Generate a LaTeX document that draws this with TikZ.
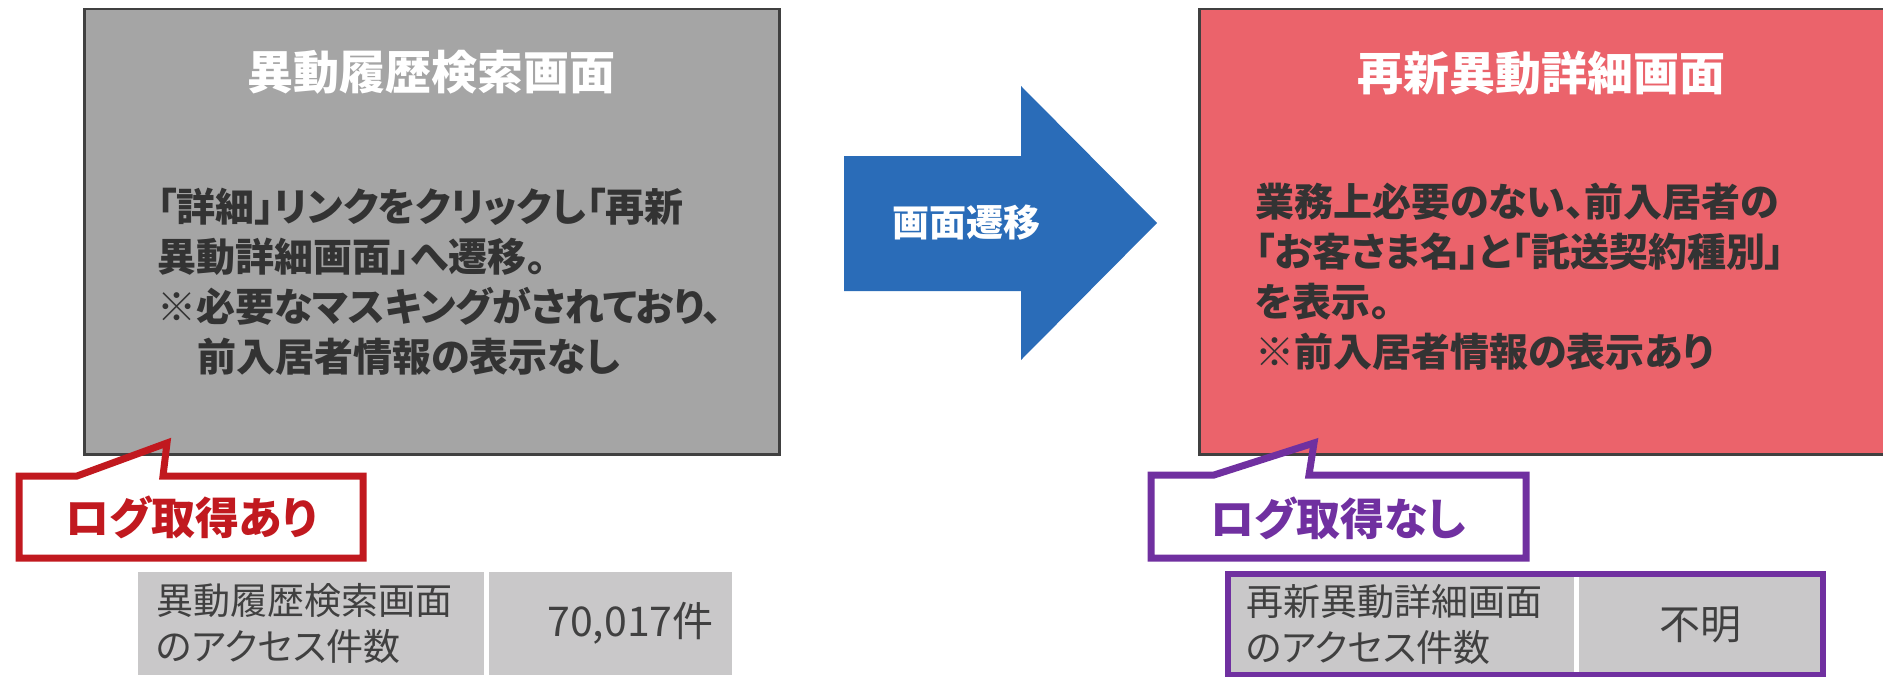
\documentclass[tikz,border=0pt]{standalone}
\usepackage{fontspec}
\setmainfont[RawFeature=+palt]{Noto Sans CJK JP}
\usepackage{xcolor}
\usetikzlibrary{positioning}

\definecolor{boxline}{HTML}{404040}
\definecolor{screengray}{HTML}{A5A5A5}
\definecolor{screenred}{HTML}{EB636B}
\definecolor{moveblue}{HTML}{2A6CB8}
\definecolor{logred}{HTML}{C1191F}
\definecolor{logpurple}{HTML}{7030A0}
\definecolor{cellgray}{HTML}{C9C8C9}
\definecolor{bodytext}{HTML}{333333}

\begin{document}
\begin{tikzpicture}[x=1pt,y=-1pt,
    screen/.style={draw=boxline,line width=2.5pt,minimum width=695pt,minimum height=445pt,anchor=north west,inner sep=0pt},
    title/.style={text=white,font=\bfseries\fontsize{46}{50}\selectfont},
    body/.style={text=bodytext,align=left,anchor=west,inner sep=0pt,font=\bfseries\fontsize{39}{50}\selectfont},
    callout/.style={line width=7pt,miter limit=20},
    logtext/.style={font=\bfseries\fontsize{44}{50}\selectfont},
    cell/.style={fill=cellgray,text=boxline,minimum height=103pt,inner ysep=0pt,inner xsep=18pt},
    label/.style={cell,anchor=north west,text width=310pt,align=left,font=\fontsize{37}{46}\selectfont},
    count/.style={cell,minimum width=243pt,font=\fontsize{41}{46}\selectfont}]
    \useasboundingbox (0,0) rectangle (1883,677);

    % screens
    \node[screen,fill=screengray] (scr_1) at (83,8) {};
    \node[screen,fill=screenred]  (scr_2) at (1198,8) {};
    \node[title,below=39pt of scr_1.north,on grid] (ttl_1) {異動履歴検索画面};
    \node[title,below=39pt of scr_2.north,on grid,xshift=-5pt] (ttl_2) {再新異動詳細画面};
    \node[body] (txt_1) at (157,282)
      {「詳細」リンクをクリックし「再新\\異動詳細画面」へ遷移。\\※必要なマスキングがされており、\\\hspace*{40pt}前入居者情報の表示なし};
    \node[body] (txt_2) at (1255,277)
      {業務上必要のない、前入居者の\\「お客さま名」と「託送契約種別」\\を表示。\\※前入居者情報の表示あり};

    % transition arrow
    \fill[moveblue] (844,156) -- (1021,156) -- (1021,86) -- (1157,223)
      -- (1021,360) -- (1021,291) -- (844,291) -- cycle;
    \node[text=white,font=\bfseries\fontsize{37}{40}\selectfont] (move) at (966,223) {画面遷移};

    % log callouts
    \draw[callout,logred] (19,476) -- (77,476) -- (167,443) -- (163,476)
      -- (363,476) -- (363,558) -- (19,558) -- cycle;
    \node[logtext,text=logred] (log_1) at (191,517) {ログ取得あり};
    \draw[callout,logpurple] (1151,475) -- (1214,475) -- (1314,443) -- (1309,475)
      -- (1526,475) -- (1526,558) -- (1151,558) -- cycle;
    \node[logtext,text=logpurple] (log_2) at (1338,518) {ログ取得なし};

    % access counts
    \node[label] (cnt_1) at (138,572) {異動履歴検索画面\\のアクセス件数};
    \node[count,text width=207pt,align=right,right=4pt of cnt_1] (val_1) {70,017件};
    \node[label,minimum height=101pt] (cnt_2) at (1228,574) {再新異動詳細画面\\のアクセス件数};
    \node[count,minimum height=101pt,text width=208pt,align=center,right=4pt of cnt_2] (val_2) {不明};
    \draw[logpurple,line width=6pt] (cnt_2.north west) rectangle (val_2.south east);
  \end{tikzpicture}
\end{document}
